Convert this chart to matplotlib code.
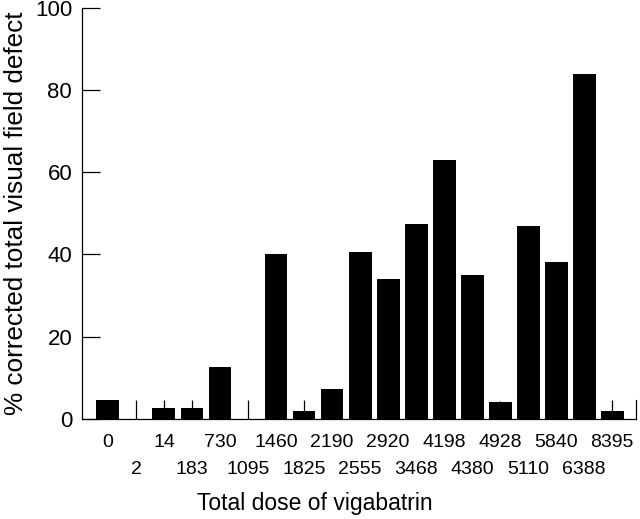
import matplotlib
matplotlib.use('Agg')
import matplotlib.pyplot as plt
import numpy as np

plt.rcParams['font.family'] = ['Liberation Sans', 'DejaVu Sans']

# dose categories (label rows alternate top / bottom)
doses = ['0', '2', '14', '183', '730', '1095', '1460', '1825', '2190', '2555',
         '2920', '3468', '4198', '4380', '4928', '5110', '5840', '6388', '8395']
# % corrected total visual field defect
defect = [4.5, 0, 2.6, 2.6, 12.5, 0, 40.2, 1.9, 7.2, 40.7,
          34.0, 47.4, 63.0, 35.0, 4.0, 46.8, 38.2, 83.8, 2.0]
# top of the error line (nan = none drawn)
err_top = [np.nan, 4.5, 4.5, 4.5, np.nan, 4.5, np.nan, 4.5, np.nan, np.nan,
           np.nan, np.nan, np.nan, np.nan, 4.4, np.nan, np.nan, np.nan, 4.5]

x = np.arange(len(doses))
defect = np.array(defect)
err_top = np.array(err_top)

fig = plt.figure(figsize=(6.4, 5.19), dpi=100)
ax = fig.add_axes([0.128, 0.193, 0.866, 0.792])

ax.bar(x, defect, width=0.82, color='black', zorder=2)

has_err = ~np.isnan(err_top)
upper = err_top[has_err] - defect[has_err]
ax.errorbar(x[has_err], defect[has_err],
            yerr=[np.zeros(has_err.sum()), upper],
            fmt='none', ecolor='black', elinewidth=0.9, capsize=0, zorder=3)

ax.set_xlim(-0.93, 18.86)
ax.set_ylim(0, 100)
ax.set_yticks([0, 20, 40, 60, 80, 100])
ax.tick_params(axis='y', direction='in', length=13, width=0.9,
               labelsize=16, pad=7)

ax.set_xticks(x[::2], [doses[i] for i in x[::2]])
ax.set_xticks(x[1::2], [doses[i] for i in x[1::2]], minor=True)
ax.tick_params(axis='x', which='major', length=0, labelsize=14, pad=11)
ax.tick_params(axis='x', which='minor', length=0, labelsize=14, pad=30.5)

ax.spines['top'].set_visible(False)
ax.spines['right'].set_bounds(0, 4.5)
for s in ['left', 'bottom', 'right']:
    ax.spines[s].set_linewidth(0.9)

ax.set_xlabel('Total dose of vigabatrin', fontsize=16.5)
ax.xaxis.set_label_coords(0.42, -0.178)
ax.set_ylabel('% corrected total visual field defect', fontsize=18.8)
ax.yaxis.set_label_coords(-0.098, 0.5)

plt.savefig('out.png', dpi=100)
